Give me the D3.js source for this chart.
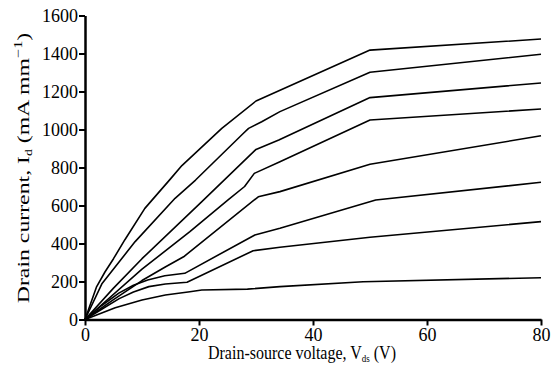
<!DOCTYPE html>
<html>
<head>
<meta charset="utf-8">
<script src="https://cdn.jsdelivr.net/npm/d3@7"></script>
<style>
  body { margin: 0; background: #fff; }
  text { font-family: "Liberation Serif", "DejaVu Serif", serif; fill: #000; }
</style>
</head>
<body>
<svg id="chart" width="551" height="367"></svg>
<script>
// I-V curves, Vds (V) vs Id (mA/mm), one array per gate bias, top to bottom
const curve1 = [[0,0],[2,170],[3.5,250],[5,320],[7,420],[10.5,585],[15,740],[17,810],[24,1006],[30,1150],[50,1418],[80,1476]];
const curve2 = [[0,0],[3,190],[8.8,410],[15.8,638],[19.4,734],[27.8,980],[28.7,1006],[31,1041],[34.2,1094],[50,1301],[80,1396]];
const curve3 = [[0,0],[5,165],[10,320],[20.5,620],[30,895],[34,945],[50,1168],[80,1245]];
const curve4 = [[0,0],[10,265],[18.4,462],[25.1,629],[28,700],[29.7,769],[34.2,830],[50,1050],[80,1108]];
const curve5 = [[0,0],[5,105],[10,205],[14,275],[17.3,330],[30.4,646],[34.2,673],[50,817],[80,967]];
const curve6 = [[0,0],[3,75],[6,140],[8.5,180],[11,208],[14,230],[17.5,243],[29.8,445],[34.2,480],[51,629],[80,722]];
const curve7 = [[0,0],[3,55],[6,110],[8.5,145],[11.2,173],[14.1,187],[17.9,196],[29.5,362],[34.2,380],[50,433],[80,515]];
const curve8 = [[0,0],[5.3,62],[10,103],[14.1,129],[18.4,146],[20.5,155],[28.5,160],[34.2,173],[48.8,199],[80,220]];
const curves = [curve1, curve2, curve3, curve4, curve5, curve6, curve7, curve8];

const xTicks = [0, 20, 40, 60, 80];
const yTicks = [0, 200, 400, 600, 800, 1000, 1200, 1400, 1600];

const svg = d3.select("#chart");

const x = d3.scaleLinear().domain([0, 80]).range([85, 541]);
const y = d3.scaleLinear().domain([0, 1600]).range([319.5, 15.5]);

// axes
const xAxis = svg.append("g")
  .attr("transform", "translate(0," + 319.5 + ")")
  .call(d3.axisBottom(x).tickValues(xTicks).tickFormat(d3.format("d")).tickSize(6).tickSizeOuter(0).tickPadding(1));
const yAxis = svg.append("g")
  .attr("transform", "translate(" + 85 + ",0)")
  .call(d3.axisLeft(y).tickValues(yTicks).tickFormat(d3.format("d")).tickSize(6).tickSizeOuter(0).tickPadding(1));

[xAxis, yAxis].forEach(function(g) {
  g.attr("font-family", null).attr("font-size", null);
  g.select(".domain").attr("stroke", "#000").attr("stroke-width", 2.5);
  g.selectAll(".tick line").attr("stroke", "#000").attr("stroke-width", 2);
  g.selectAll(".tick text")
    .attr("font-size", 18)
    .attr("fill", "#000");
});
xAxis.selectAll(".tick text").attr("dy", "0.78em");
yAxis.selectAll(".tick text").attr("dy", "0.34em");

// curves
const line = d3.line()
  .x(function(d) { return x(d[0]); })
  .y(function(d) { return y(d[1]); });

svg.append("g").selectAll("path")
  .data(curves)
  .enter().append("path")
  .attr("d", line)
  .attr("fill", "none")
  .attr("stroke", "#000")
  .attr("stroke-width", 1.6)
  .attr("stroke-linejoin", "round");

// axis titles
const xt = svg.append("text")
  .attr("transform", "translate(302,359) scale(1,1.15)")
  .attr("text-anchor", "middle")
  .attr("font-size", 16);
xt.append("tspan").text("Drain-source voltage, V");
xt.append("tspan").attr("font-size", 9).attr("dy", 3).text("ds");
xt.append("tspan").attr("dy", -3).text(" (V)");

const yt = svg.append("text")
  .attr("transform", "translate(29,168) scale(1,1.36) rotate(-90)")
  .attr("text-anchor", "middle")
  .attr("font-size", 17.5);
yt.append("tspan").text("Drain current, I");
yt.append("tspan").attr("font-size", 10).attr("dy", 3).text("d");
yt.append("tspan").attr("dy", -3).text(" (mA mm");
yt.append("tspan").attr("font-size", 12).attr("dy", -7).text("\u22121");
yt.append("tspan").attr("dy", 7).text(")");
</script>
</body>
</html>
